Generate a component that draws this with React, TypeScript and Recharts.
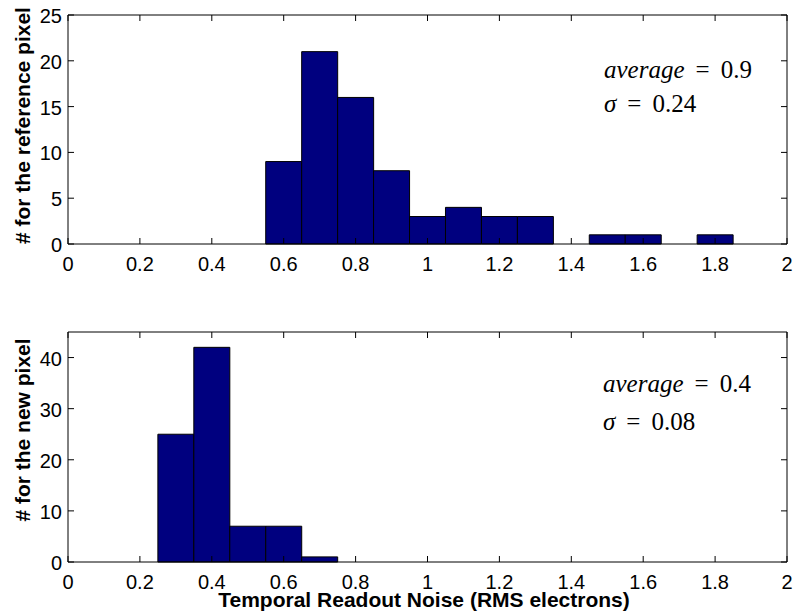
import { BarChart, Bar, XAxis, YAxis, ReferenceLine } from 'recharts';

const binCenters = [0.1, 0.2, 0.3, 0.4, 0.5, 0.6, 0.7, 0.8, 0.9, 1.0, 1.1, 1.2, 1.3, 1.4, 1.5, 1.6, 1.7, 1.8, 1.9];
const referenceCounts = [0, 0, 0, 0, 0, 9, 21, 16, 8, 3, 4, 3, 3, 0, 1, 1, 0, 1, 0];
const newCounts = [0, 0, 25, 42, 7, 7, 1, 0, 0, 0, 0, 0, 0, 0, 0, 0, 0, 0, 0];

const xTicks = [0, 0.2, 0.4, 0.6, 0.8, 1, 1.2, 1.4, 1.6, 1.8, 2];
const refYTicks = [0, 5, 10, 15, 20, 25];
const newYTicks = [0, 10, 20, 30, 40];

const refData = binCenters.map((x, i) => ({ x, count: referenceCounts[i] }));
const newData = binCenters.map((x, i) => ({ x, count: newCounts[i] }));

const FONT = '"Liberation Sans", Arial, sans-serif';
const BAR_FILL = '#00007f';
const TICK = 6;
const CHART_W = 795;
const LEFT = 68;
const RIGHT = 8;
const PLOT_W = CHART_W - LEFT - RIGHT;

// matlab style: ticks point inward, mirrored on the opposite side of the box
const makeXTick = (plotH: number) => ({ x, y, payload }: any) => (
  <g>
    <line x1={x} y1={y} x2={x} y2={y - TICK} stroke="#000" />
    <line x1={x} y1={y - plotH} x2={x} y2={y - plotH + TICK} stroke="#000" />
    <text x={x} y={y + 27} textAnchor="middle" fontFamily={FONT} fontSize={20} fill="#000">
      {String(payload.value)}
    </text>
  </g>
);

const YTick = ({ x, y, payload }: any) => (
  <g>
    <line x1={x} y1={y} x2={x + TICK} y2={y} stroke="#000" />
    <line x1={x + PLOT_W} y1={y} x2={x + PLOT_W - TICK} y2={y} stroke="#000" />
    <text x={x - 6} y={y + 8} textAnchor="end" fontFamily={FONT} fontSize={20} fill="#000">
      {String(payload.value)}
    </text>
  </g>
);

function yLabel(text: string, dy: number) {
  return (props: any) => {
    const vb = props.viewBox;
    const cy = vb.y + vb.height / 2 + dy;
    return (
      <text
        x={22}
        y={cy}
        transform={`rotate(-90 22 ${cy})`}
        textAnchor="middle"
        dominantBaseline="central"
        fontFamily={FONT}
        fontSize={21}
        fontWeight="bold"
        fill="#000"
      >
        {text}
      </text>
    );
  };
}

function xLabel(text: string) {
  return (props: any) => {
    const vb = props.viewBox;
    return (
      <text x={424} y={vb.y + 45} textAnchor="middle" fontFamily={FONT} fontSize={21} fontWeight="bold" fill="#000">
        {text}
      </text>
    );
  };
}

function Histogram({ data, height, top, bottom, yMax, yTicks, ylabel, ylabelDy, xlabel }: any) {
  const plotH = height - top - bottom;
  const XTick = makeXTick(plotH);
  return (
    <BarChart
      width={CHART_W}
      height={height}
      data={data}
      margin={{ top, right: RIGHT, left: 0, bottom: 0 }}
      barCategoryGap={0}
      barGap={0}
    >
      <XAxis
        dataKey="x"
        type="number"
        domain={[0, 2]}
        ticks={xTicks}
        interval={0}
        height={bottom}
        tickSize={0}
        tickMargin={0}
        tickLine={false}
        axisLine={{ stroke: '#000' }}
        tick={<XTick />}
        label={xlabel ? xLabel(xlabel) : undefined}
      />
      <YAxis
        type="number"
        domain={[0, yMax]}
        ticks={yTicks}
        interval={0}
        width={LEFT}
        tickSize={0}
        tickMargin={0}
        tickLine={false}
        axisLine={{ stroke: '#000' }}
        tick={<YTick />}
        label={yLabel(ylabel, ylabelDy)}
      />
      <ReferenceLine y={yMax} stroke="#000" />
      <ReferenceLine x={2} stroke="#000" />
      <Bar dataKey="count" fill={BAR_FILL} stroke="#000" strokeWidth={1} isAnimationActive={false} />
    </BarChart>
  );
}

function Stats({ x, y1, y2, avg, sigma }: any) {
  const serif = '"Liberation Serif", "Times New Roman", serif';
  return (
    <>
      <text x={x} y={y1} fontFamily={serif} fontSize={25} fill="#000">
        <tspan fontStyle="italic">average</tspan>
        <tspan dx={11}>=</tspan>
        <tspan dx={11}>{avg}</tspan>
      </text>
      <text x={x} y={y2} fontFamily={serif} fontSize={25} fill="#000">
        <tspan fontStyle="italic">σ</tspan>
        <tspan dx={11}>=</tspan>
        <tspan dx={11}>{sigma}</tspan>
      </text>
    </>
  );
}

export default function App() {
  return (
    <div style={{ position: 'fixed', left: 0, top: 0, width: 795, height: 614, background: '#fff', overflow: 'hidden' }}>
      <div style={{ position: 'absolute', left: 0, top: 0 }}>
        <Histogram
          data={refData}
          height={300}
          top={15}
          bottom={56}
          yMax={25}
          yTicks={refYTicks}
          ylabel="# for the reference pixel"
          ylabelDy={-4}
        />
      </div>
      <div style={{ position: 'absolute', left: 0, top: 300 }}>
        <Histogram
          data={newData}
          height={314}
          top={32}
          bottom={52}
          yMax={45}
          yTicks={newYTicks}
          ylabel="# for the new pixel"
          ylabelDy={-17}
          xlabel="Temporal Readout Noise (RMS electrons)"
        />
      </div>
      <svg width={795} height={614} style={{ position: 'absolute', left: 0, top: 0, pointerEvents: 'none' }}>
        <Stats x={604} y1={78} y2={112} avg="0.9" sigma="0.24" />
        <Stats x={603} y1={392} y2={430} avg="0.4" sigma="0.08" />
      </svg>
    </div>
  );
}
